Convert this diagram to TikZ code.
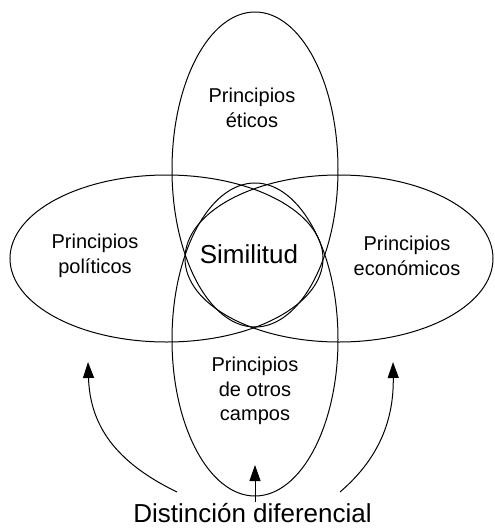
\documentclass[tikz,border=0pt]{standalone}
\usepackage{fontspec}
\setmainfont{Liberation Sans}
\usetikzlibrary{arrows.meta}
\begin{document}
\begin{tikzpicture}[x=1pt,y=-1pt,
  ring/.style={line width=1pt},
  princ/.style={font=\fontsize{20}{24.5}\selectfont, align=center, inner sep=0pt},
  flecha/.style={line width=1pt, -{Triangle[length=16pt,width=11pt]}}]%
\useasboundingbox (0,0) rectangle (495,528);%
\draw[ring] (255,169.5) ellipse [x radius=83, y radius=157.5];%
\draw[ring] (255,339.5) ellipse [x radius=83, y radius=156.5];%
\draw[ring] (166.5,258.5) ellipse [x radius=156.5, y radius=83.5];%
\draw[ring] (339,258.5) ellipse [x radius=154, y radius=83.5];%
\node[princ] (eticos) at (252,108) {Principios\\éticos};%
\node[princ] (politicos) at (95,256) {Principios\\políticos};%
\node[princ] (economicos) at (407,256) {Principios\\económicos};%
\node[princ] (otros) at (255,391) {Principios\\de otros\\campos};%
\node[princ, font=\fontsize{26}{31}\selectfont] (similitud) at (249,254) {Similitud};%
\node[princ, font=\fontsize{26}{31}\selectfont, anchor=base, inner sep=1pt] (dist) at (252.5,522) {Distinción diferencial};%
\coordinate (izqini) at (177,492);%
\coordinate (izqtip) at (88,362);%
\coordinate (derini) at (340,492);%
\coordinate (dertip) at (393,362);%
\coordinate (midtip) at (255,465);%
\draw[flecha] (izqini) .. controls (115,462) and (90,425) .. (izqtip);%
\draw[flecha] (derini) .. controls (375,462) and (394,425) .. (dertip);%
\draw[flecha] (dist.north -| midtip) -- (midtip);%
\end{tikzpicture}
\end{document}
